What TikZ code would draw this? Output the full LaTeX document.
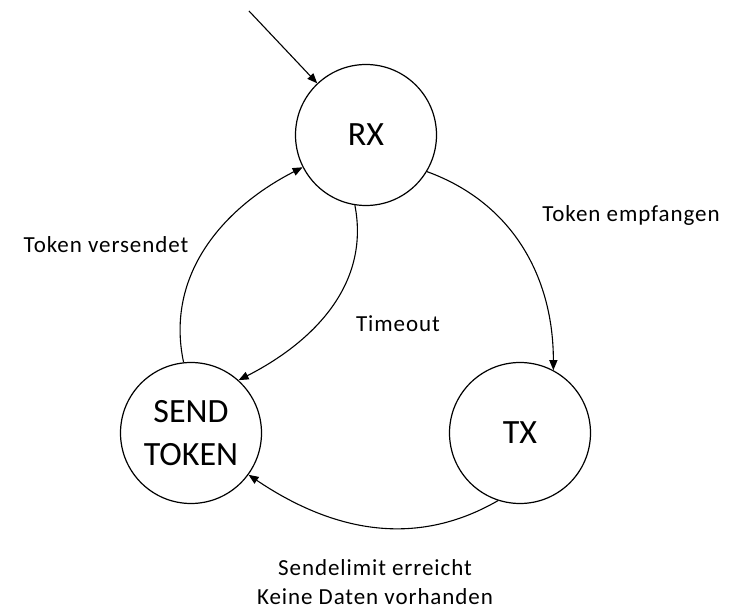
\documentclass[tikz,border=0pt]{standalone}
\usepackage{fontspec}
\setmainfont{Carlito}
\newfontfamily\lblfont[LetterSpace=4]{Carlito}
\usetikzlibrary{arrows.meta,positioning}

\begin{document}
\begin{tikzpicture}[x=1pt, y=1pt,
      state/.style={draw, circle, line width=1.2pt, minimum size=141pt, inner sep=0pt,
      align=center, font=\fontsize{34}{43}\selectfont},
      flow/.style={-{Triangle[length=10pt, width=8pt]}, line width=1.1pt},
      lbl/.style={align=center, font=\lblfont\fontsize{23}{29}\selectfont}
    ]
    \useasboundingbox (0,0) rectangle (729,611);
    \node[state] (rx) at (366,476) {RX};
    \node[state] (send) at (191,178) {SEND\\TOKEN};
    \node[state] (tx) at (520,178) {TX};
    \coordinate (start) at (249,600);
    \node[lbl] (empf) at (631,396) {Token empfangen};
    \node[lbl] (vers) at (106,366) {Token versendet};
    \node[lbl] (tout) at (398,287) {Timeout};
    \node[lbl] (limit) at (375,29) {Sendelimit erreicht\\Keine Daten vorhanden};
    \draw[flow] (start) -- (rx);
    \draw[flow] (rx.-31) to[out=-20, in=90] (tx.62);
    \draw[flow] (send.96) to[out=102, in=207] (rx.207);
    \draw[flow] (rx.261) to[out=-79, in=27] (send.48);
    \draw[flow] (tx.252) to[out=210, in=-34] (send.-36);
  \end{tikzpicture}
\end{document}
